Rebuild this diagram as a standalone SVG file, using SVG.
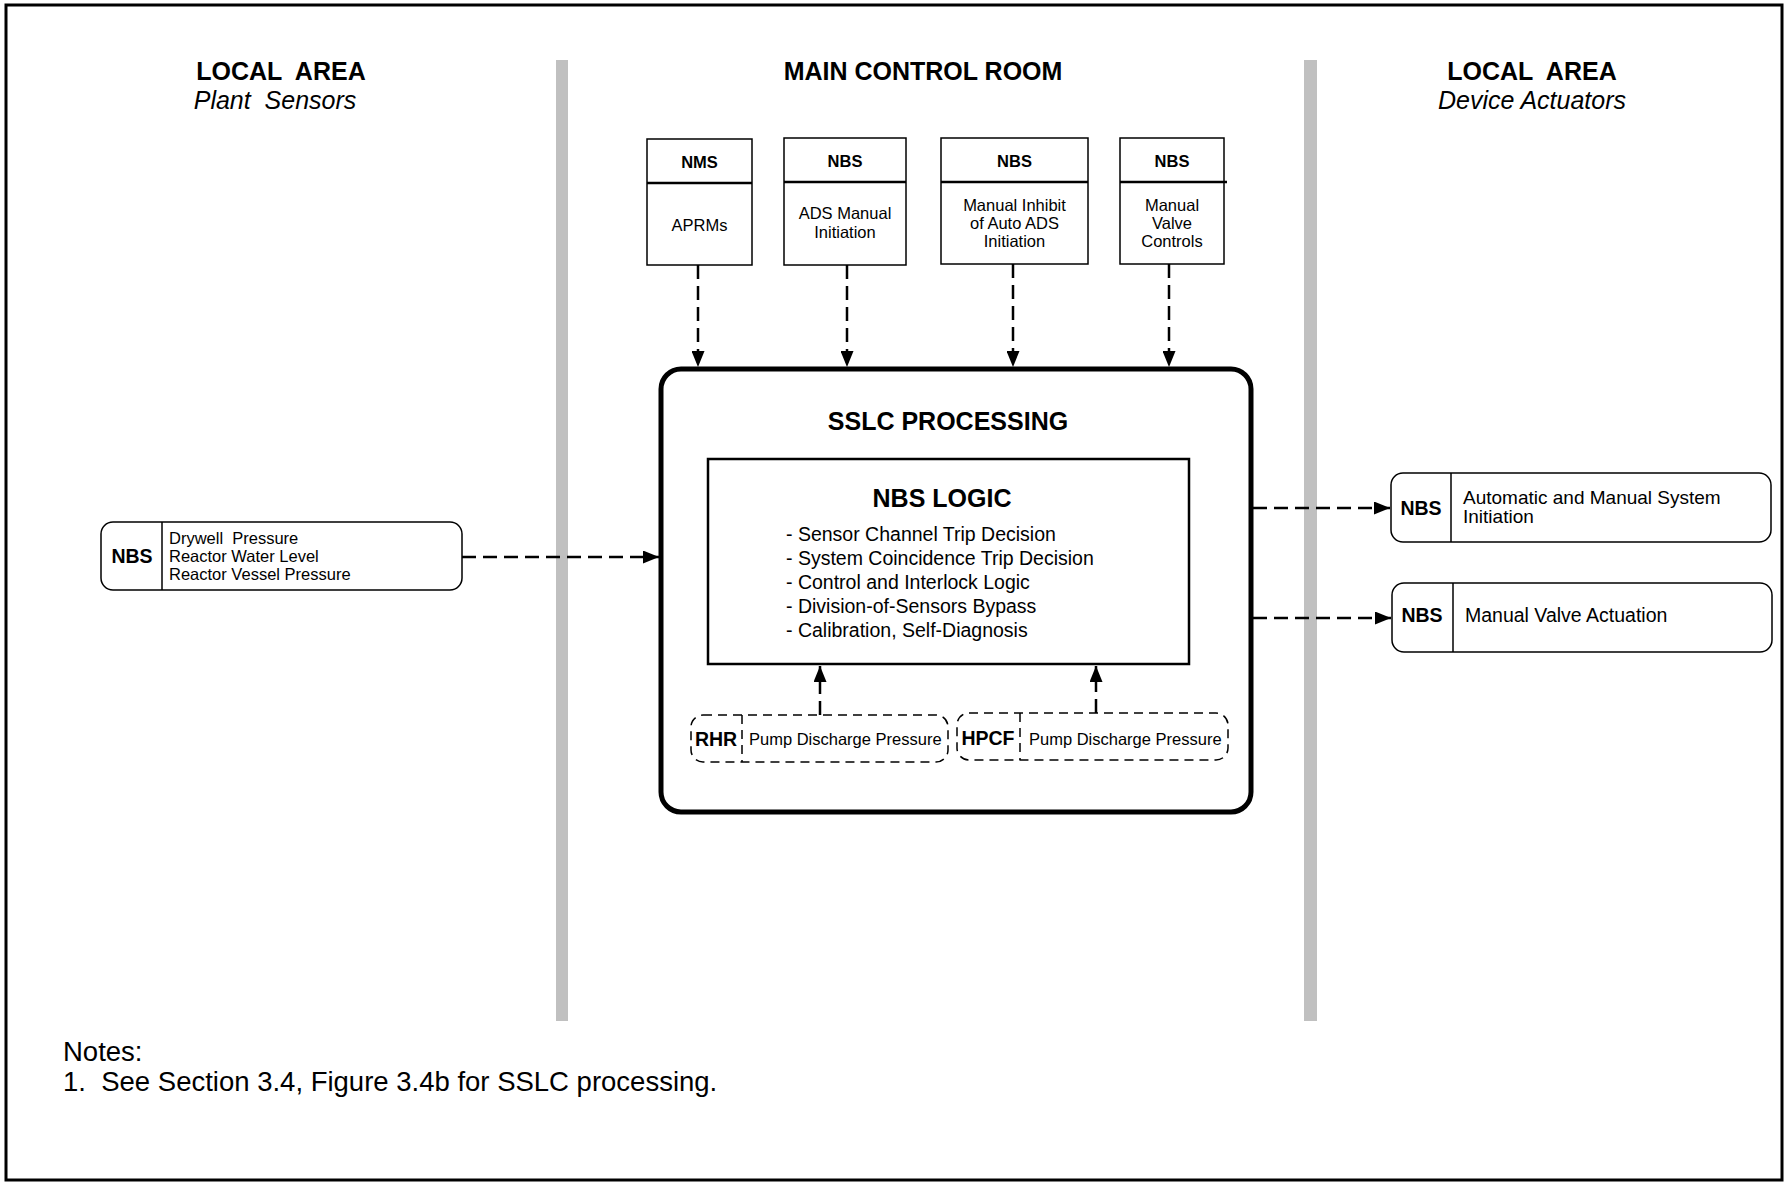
<svg xmlns="http://www.w3.org/2000/svg" width="1786" height="1183" viewBox="0 0 1786 1183">
<defs>
<style>
text{font-family:"Liberation Sans",Arial,Helvetica,sans-serif;fill:#000}
.h{font-size:25px;font-weight:bold}
.hi{font-size:25px;font-style:italic}
.bx{fill:#fff;stroke:#000;stroke-width:1.5}
.dv{stroke:#000;stroke-width:2.5}
.thin{stroke:#000;stroke-width:1.5}
.t16{font-size:16.5px}
.b16{font-size:16.5px;font-weight:bold}
.b19{font-size:19.5px;font-weight:bold}
.t19{font-size:19.5px}
.t19s{font-size:19px}
.bar{fill:#c0c0c0}
.con{fill:none;stroke:#000;stroke-width:2.5;stroke-dasharray:14 7}
.dash{fill:#fff;stroke:#000;stroke-width:1.5;stroke-dasharray:9 6}
.note{font-size:27.5px}
</style>
<marker id="ah" viewBox="0 0 16 13" refX="16" refY="6.5" markerWidth="16" markerHeight="13" markerUnits="userSpaceOnUse" orient="auto">
<path d="M0,0 L16,6.5 L0,13 z" fill="#000"/>
</marker>
</defs>
<rect x="0" y="0" width="1786" height="1183" fill="#fff"/>
<rect x="6" y="5" width="1776" height="1175" fill="none" stroke="#000" stroke-width="3"/>
<rect class="bar" x="556" y="60" width="12" height="961"/>
<rect class="bar" x="1304" y="60" width="13" height="961"/>

<g id="headers" text-anchor="middle">
<text class="h" x="281" y="80" xml:space="preserve">LOCAL  AREA</text>
<text class="hi" x="275" y="109" xml:space="preserve">Plant  Sensors</text>
<text class="h" x="923" y="80">MAIN CONTROL ROOM</text>
<text class="h" x="1532" y="80" xml:space="preserve">LOCAL  AREA</text>
<text class="hi" x="1532" y="109">Device Actuators</text>
</g>

<g id="nms-aprms">
<rect class="bx" x="647" y="139" width="105" height="126"/>
<line class="dv" x1="647" y1="183" x2="752" y2="183"/>
<text class="b16" x="699.5" y="168" text-anchor="middle">NMS</text>
<text class="t16" x="699.5" y="231" text-anchor="middle">APRMs</text>
</g>
<g id="nbs-ads-manual">
<rect class="bx" x="784" y="138" width="122" height="127"/>
<line class="dv" x1="784" y1="182" x2="906" y2="182"/>
<text class="b16" x="845" y="167" text-anchor="middle">NBS</text>
<text class="t16" x="845" y="219" text-anchor="middle">ADS Manual</text>
<text class="t16" x="845" y="238" text-anchor="middle">Initiation</text>
</g>
<g id="nbs-inhibit">
<rect class="bx" x="941" y="138" width="147" height="126"/>
<line class="dv" x1="941" y1="182" x2="1088" y2="182"/>
<text class="b16" x="1014.5" y="167" text-anchor="middle">NBS</text>
<text class="t16" x="1014.5" y="211" text-anchor="middle">Manual Inhibit</text>
<text class="t16" x="1014.5" y="229" text-anchor="middle">of Auto ADS</text>
<text class="t16" x="1014.5" y="247" text-anchor="middle">Initiation</text>
</g>
<g id="nbs-valve-controls">
<rect class="bx" x="1120" y="138" width="104" height="126"/>
<line class="dv" x1="1120" y1="182" x2="1227" y2="182"/>
<text class="b16" x="1172" y="167" text-anchor="middle">NBS</text>
<text class="t16" x="1172" y="211" text-anchor="middle">Manual</text>
<text class="t16" x="1172" y="229" text-anchor="middle">Valve</text>
<text class="t16" x="1172" y="247" text-anchor="middle">Controls</text>
</g>

<g id="sslc-processing">
<rect x="661" y="369" width="590" height="443" rx="20" ry="20" fill="#fff" stroke="#000" stroke-width="5"/>
<text class="h" x="948" y="430" text-anchor="middle">SSLC PROCESSING</text>
</g>
<g id="nbs-logic">
<rect x="708" y="459" width="481" height="205" fill="#fff" stroke="#000" stroke-width="2.5"/>
<text class="h" x="942" y="507" text-anchor="middle">NBS LOGIC</text>
<text class="t19" x="786" y="541">- Sensor Channel Trip Decision</text>
<text class="t19" x="786" y="565">- System Coincidence Trip Decision</text>
<text class="t19" x="786" y="589">- Control and Interlock Logic</text>
<text class="t19" x="786" y="613">- Division-of-Sensors Bypass</text>
<text class="t19" x="786" y="637">- Calibration, Self-Diagnosis</text>
</g>
<g id="rhr-pump">
<rect class="dash" x="691" y="715" width="257" height="47" rx="12" ry="12"/>
<line class="thin" x1="742" y1="715" x2="742" y2="762" stroke-dasharray="9 6"/>
<text class="b19" x="716" y="746" text-anchor="middle">RHR</text>
<text class="t16" x="749" y="745">Pump Discharge Pressure</text>
</g>
<g id="hpcf-pump">
<rect class="dash" x="957" y="713" width="271" height="47" rx="12" ry="12"/>
<line class="thin" x1="1020" y1="713" x2="1020" y2="760" stroke-dasharray="9 6"/>
<text class="b19" x="988" y="745" text-anchor="middle">HPCF</text>
<text class="t16" x="1029" y="745">Pump Discharge Pressure</text>
</g>

<g id="nbs-sensors">
<rect class="bx" x="101" y="522" width="361" height="68" rx="12" ry="12"/>
<line class="thin" x1="162" y1="522" x2="162" y2="590"/>
<text class="b19" x="132" y="563" text-anchor="middle">NBS</text>
<text class="t16" x="169" y="544" xml:space="preserve">Drywell  Pressure</text>
<text class="t16" x="169" y="562">Reactor Water Level</text>
<text class="t16" x="169" y="580">Reactor Vessel Pressure</text>
</g>

<g id="nbs-initiation">
<rect class="bx" x="1391" y="473" width="380" height="69" rx="12" ry="12"/>
<line class="thin" x1="1451" y1="473" x2="1451" y2="542"/>
<text class="b19" x="1421" y="515" text-anchor="middle">NBS</text>
<text class="t19s" x="1463" y="504">Automatic and Manual System</text>
<text class="t19s" x="1463" y="523">Initiation</text>
</g>
<g id="nbs-valve-actuation">
<rect class="bx" x="1392" y="583" width="380" height="69" rx="12" ry="12"/>
<line class="thin" x1="1453" y1="583" x2="1453" y2="652"/>
<text class="b19" x="1422" y="622" text-anchor="middle">NBS</text>
<text class="t19" x="1465" y="622">Manual Valve Actuation</text>
</g>

<g id="connectors">
<line class="con" x1="698" y1="265" x2="698" y2="367" marker-end="url(#ah)"/>
<line class="con" x1="847" y1="265" x2="847" y2="367" marker-end="url(#ah)"/>
<line class="con" x1="1013" y1="264" x2="1013" y2="367" marker-end="url(#ah)"/>
<line class="con" x1="1169" y1="264" x2="1169" y2="367" marker-end="url(#ah)"/>
<line class="con" x1="462" y1="557" x2="659" y2="557" marker-end="url(#ah)"/>
<line class="con" x1="1253" y1="508" x2="1390" y2="508" marker-end="url(#ah)"/>
<line class="con" x1="1253" y1="618" x2="1391" y2="618" marker-end="url(#ah)"/>
<line class="con" x1="820" y1="715" x2="820" y2="666" marker-end="url(#ah)"/>
<line class="con" x1="1096" y1="713" x2="1096" y2="666" marker-end="url(#ah)"/>
</g>

<g id="notes">
<text class="note" x="63" y="1061">Notes:</text>
<text class="note" x="63" y="1091" xml:space="preserve">1.  See Section 3.4, Figure 3.4b for SSLC processing.</text>
</g>
</svg>
